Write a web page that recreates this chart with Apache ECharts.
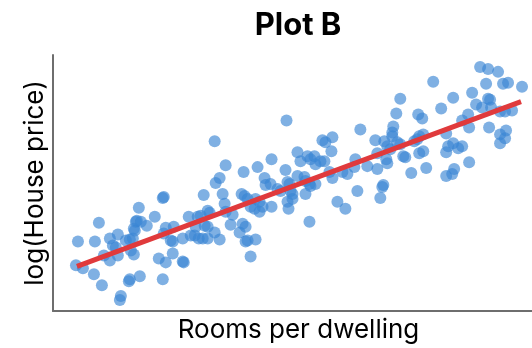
<!DOCTYPE html>
<html>
<head>
<meta charset="utf-8">
<script src="https://cdn.jsdelivr.net/npm/echarts@6/dist/echarts.min.js"></script>
<style>
html,body{margin:0;padding:0;background:#fff;}
#chart{width:532px;height:348px;}
</style>
</head>
<body>
<div id="chart"></div>
<script>
// Rooms per dwelling (x) and log(House price) (y)
var rooms = [
3.83,3.85,3.90,4.01,4.02,4.06,4.09,4.11,4.17,4.17,4.20,4.23,4.25,4.25,4.27,4.28,4.33,4.36,4.37,4.37,
4.38,4.40,4.41,4.42,4.41,4.43,4.44,4.46,4.47,4.48,4.54,4.62,4.66,4.70,4.71,4.70,4.71,4.73,4.73,4.78,
4.80,4.80,4.81,4.90,4.90,4.91,4.96,4.98,5.05,5.06,5.03,5.02,5.10,5.11,5.12,5.15,5.15,5.15,5.17,5.08,
5.23,5.22,5.22,5.27,5.27,5.30,5.32,5.33,5.33,5.38,5.40,5.47,5.49,5.50,5.51,5.52,5.53,5.53,5.55,5.55,
5.58,5.58,5.62,5.63,5.63,5.65,5.67,5.67,5.70,5.72,5.73,5.78,5.79,5.79,5.85,5.88,5.93,5.94,5.95,5.97,
5.95,5.96,5.98,6.00,6.00,6.05,6.05,6.08,6.12,6.13,6.13,6.15,6.17,6.17,6.18,6.22,6.23,6.23,6.28,6.30,
6.33,6.32,6.37,6.39,6.40,6.40,6.45,6.50,6.53,6.55,6.62,6.63,6.65,6.68,6.75,6.83,6.85,6.85,6.88,6.90,
6.91,6.92,6.94,6.95,6.95,6.98,7.00,7.01,7.00,7.05,7.04,7.08,7.08,7.11,7.13,7.19,7.22,7.25,7.26,7.30,
7.27,7.31,7.27,7.31,7.34,7.41,7.49,7.54,7.54,7.54,7.60,7.61,7.61,7.56,7.66,7.70,7.62,7.70,7.76,7.77,
7.77,7.80,7.84,7.88,7.96,8.06,7.90,7.94,7.96,7.98,7.99,7.97,8.08,8.13,8.20,8.11,8.16,8.30,8.14,8.08,
8.13,8.08,6.18
];
var logPrice = [
1.88,2.12,1.85,1.79,2.12,2.31,1.68,1.98,2.15,1.93,2.08,2.06,2.19,1.98,1.53,1.57,2.13,1.72,1.74,2.14,
2.03,2.15,2.25,2.23,1.99,2.32,2.33,2.46,1.77,2.32,2.28,2.37,1.95,2.56,2.57,1.74,2.20,2.26,1.91,2.13,
2.12,2.00,2.27,2.15,1.92,1.91,2.37,2.18,2.37,2.15,2.27,2.18,2.15,2.59,2.28,2.15,2.43,2.27,2.41,2.38,
2.71,3.13,2.21,2.76,2.14,2.60,2.50,2.89,2.42,2.29,2.39,2.21,2.60,2.30,2.82,2.58,2.27,2.12,2.55,2.13,
2.47,1.97,2.45,2.14,2.55,2.87,2.52,2.42,2.47,2.76,2.69,2.70,2.47,2.95,2.65,2.63,2.84,3.34,2.72,2.70,
2.52,2.45,2.63,2.60,2.55,3.02,2.78,2.93,2.77,2.73,2.60,2.98,2.70,2.32,2.95,2.98,2.90,2.70,2.93,3.14,
3.12,2.93,2.82,3.03,3.17,2.76,2.52,2.82,2.45,2.80,2.87,2.95,2.63,3.25,2.88,3.14,3.01,2.85,2.56,2.67,
2.69,3.13,2.95,2.91,3.08,3.05,3.18,3.28,3.22,3.12,3.41,3.56,3.10,2.98,2.97,2.81,3.13,3.15,3.40,3.36,
3.18,3.20,3.01,3.03,2.86,3.73,3.46,3.21,3.02,2.78,2.80,3.57,3.11,3.08,3.06,3.08,2.85,3.34,3.40,3.27,
2.92,3.62,3.50,3.88,3.86,3.83,3.47,3.71,3.56,3.55,3.47,3.27,3.43,3.43,3.44,3.71,3.72,3.68,3.24,3.20,
3.16,3.11,2.68
];
// Fitted regression line end points
var fitRooms = [3.84, 8.29];
var fitLogPrice = [1.87, 3.53];

var titleText = 'Plot B';
var xName = 'Rooms per dwelling';
var yName = 'log(House price)';

var pts = rooms.map(function (r, i) { return [r, logPrice[i]]; });
var fit = fitRooms.map(function (r, i) { return [r, fitLogPrice[i]]; });

var chart = echarts.init(document.getElementById('chart'), null, {renderer: 'canvas'});
var axisCommon = {
  axisLine: {show: true, lineStyle: {color: '#6e6e6e', width: 2}},
  axisTick: {show: false},
  axisLabel: {show: false},
  splitLine: {show: false},
  nameLocation: 'middle',
  nameTextStyle: {fontFamily: 'Inter', fontSize: 26, color: '#000'}
};
chart.setOption({
  animation: false,
  title: {
    text: titleText, left: 293, top: 5, textAlign: 'center',
    textStyle: {fontFamily: 'Inter', fontWeight: 'bold', fontSize: 31, color: '#000'}
  },
  grid: {left: 53, right: 0, top: 55, bottom: 35},
  xAxis: Object.assign({}, axisCommon, {
    type: 'value', min: 3.6, max: 8.4, name: xName, nameGap: 4,
    nameTextStyle: {fontFamily: 'Inter', fontSize: 26, color: '#000', verticalAlign: 'top', padding: [2, 0, 0, 12]}
  }),
  yAxis: Object.assign({}, axisCommon, {
    type: 'value', min: 1.42, max: 4.0, name: yName, nameGap: 5
  }),
  series: [
    {
      type: 'scatter', data: pts, symbolSize: 12,
      itemStyle: {color: '#3a86d4', opacity: 0.65},
      z: 2
    },
    {
      type: 'line', data: fit, showSymbol: false, symbol: 'none',
      lineStyle: {color: '#e03a3c', width: 5},
      z: 3
    }
  ]
});
</script>
</body>
</html>
